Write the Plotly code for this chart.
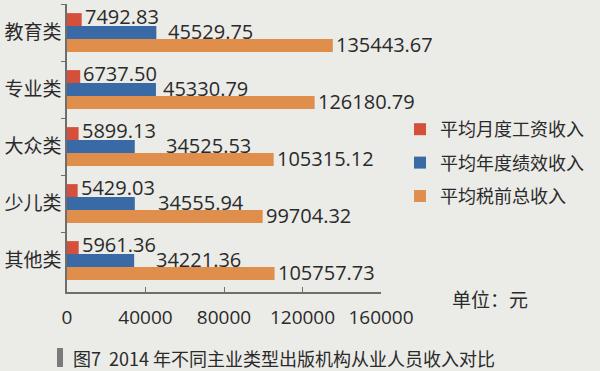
import plotly.graph_objects as go

categories = ["教育类", "专业类", "大众类", "少儿类", "其他类"]
monthly = [7492.83, 6737.50, 5899.13, 5429.03, 5961.36]
performance = [45529.75, 45330.79, 34525.53, 34555.94, 34221.36]
pretax = [135443.67, 126180.79, 105315.12, 99704.32, 105757.73]
series_names = ["平均月度工资收入", "平均年度绩效收入", "平均税前总收入"]
colors = ["#d4503a", "#3a6aa6", "#df8e4b"]
tick_vals = [0, 40000, 80000, 120000, 160000]

# label styling (pixel offsets of value labels relative to bar ends)
label_xshift = [[1] * 5, [10, 5, 29, 21, 20], [1] * 5]
label_yshift = [16, 1.5, -12]

num_font = "Open Sans"
cjk_font = "Noto Sans CJK SC"
txt_col = "#2a2a2a"

L, R, T, B = 67, 0, 4, 79
PW = 600 - L - R
PH = 371 - T - B
plot_right = 381


def px(x):
    return (x - L) / PW


def py(y):
    return (371 - B - y) / PH


fig = go.Figure()
annotations = []
all_series = [monthly, performance, pretax]
for i, (name, vals, col) in enumerate(zip(series_names, all_series, colors)):
    fig.add_trace(go.Bar(
        y=categories, x=vals, orientation="h", name=name,
        marker=dict(color=col, line=dict(width=0)),
        legendgroup=name, hoverinfo="x+y",
    ))
    for j, (cat, v) in enumerate(zip(categories, vals)):
        annotations.append(dict(
            x=v, y=cat, xref="x", yref="y", text=f"{v:.2f}",
            xanchor="left", yanchor="middle", showarrow=False,
            xshift=label_xshift[i][j], yshift=label_yshift[i],
            font=dict(family=num_font, size=20, color=txt_col)))

annotations.append(dict(text="单位：元", x=px(490), y=py(298), xref="paper", yref="paper",
                        xanchor="center", yanchor="middle", showarrow=False,
                        font=dict(family=cjk_font, size=19, color=txt_col)))
annotations.append(dict(text="图7  2014 年不同主业类型出版机构从业人员收入对比",
                        xref="paper", yref="paper", x=px(71), y=py(358),
                        xanchor="left", yanchor="middle", showarrow=False,
                        font=dict(family=cjk_font, size=18, color=txt_col)))

fig.update_layout(
    width=600, height=371,
    margin=dict(l=L, r=R, t=T, b=B, autoexpand=False),
    paper_bgcolor="#ebebe7", plot_bgcolor="#ebebe7",
    barmode="group", bargap=0.32, bargroupgap=0,
    showlegend=True,
    legend=dict(xref="container", yref="container",
                x=400 / 600, y=1 - 111 / 371, xanchor="left", yanchor="top",
                traceorder="grouped", tracegroupgap=7,
                font=dict(family=cjk_font, size=18, color=txt_col),
                itemwidth=30, bgcolor="rgba(0,0,0,0)"),
    xaxis=dict(domain=[0, (plot_right - L) / PW], range=[0, 160000], tickvals=tick_vals,
               ticktext=[str(v) for v in tick_vals],
               showgrid=False, zeroline=False, showline=True,
               linecolor="#6e6e6e", linewidth=1.5,
               ticks="inside", ticklen=5, tickcolor="#6e6e6e",
               ticklabelstandoff=7,
               tickfont=dict(family=num_font, size=19, color=txt_col)),
    yaxis=dict(autorange="reversed", showgrid=False, showline=True,
               linecolor="#6e6e6e", linewidth=1.5,
               ticks="outside", ticklen=4, tickcolor="#6e6e6e",
               tickson="boundaries",
               tickfont=dict(family=cjk_font, size=19, color=txt_col)),
    annotations=annotations,
    shapes=[dict(type="rect", xref="paper", yref="paper",
                 x0=px(57), x1=px(63), y0=py(348), y1=py(367),
                 fillcolor="#7a7a7a", line=dict(width=0))],
)
fig.write_html("out.html")
